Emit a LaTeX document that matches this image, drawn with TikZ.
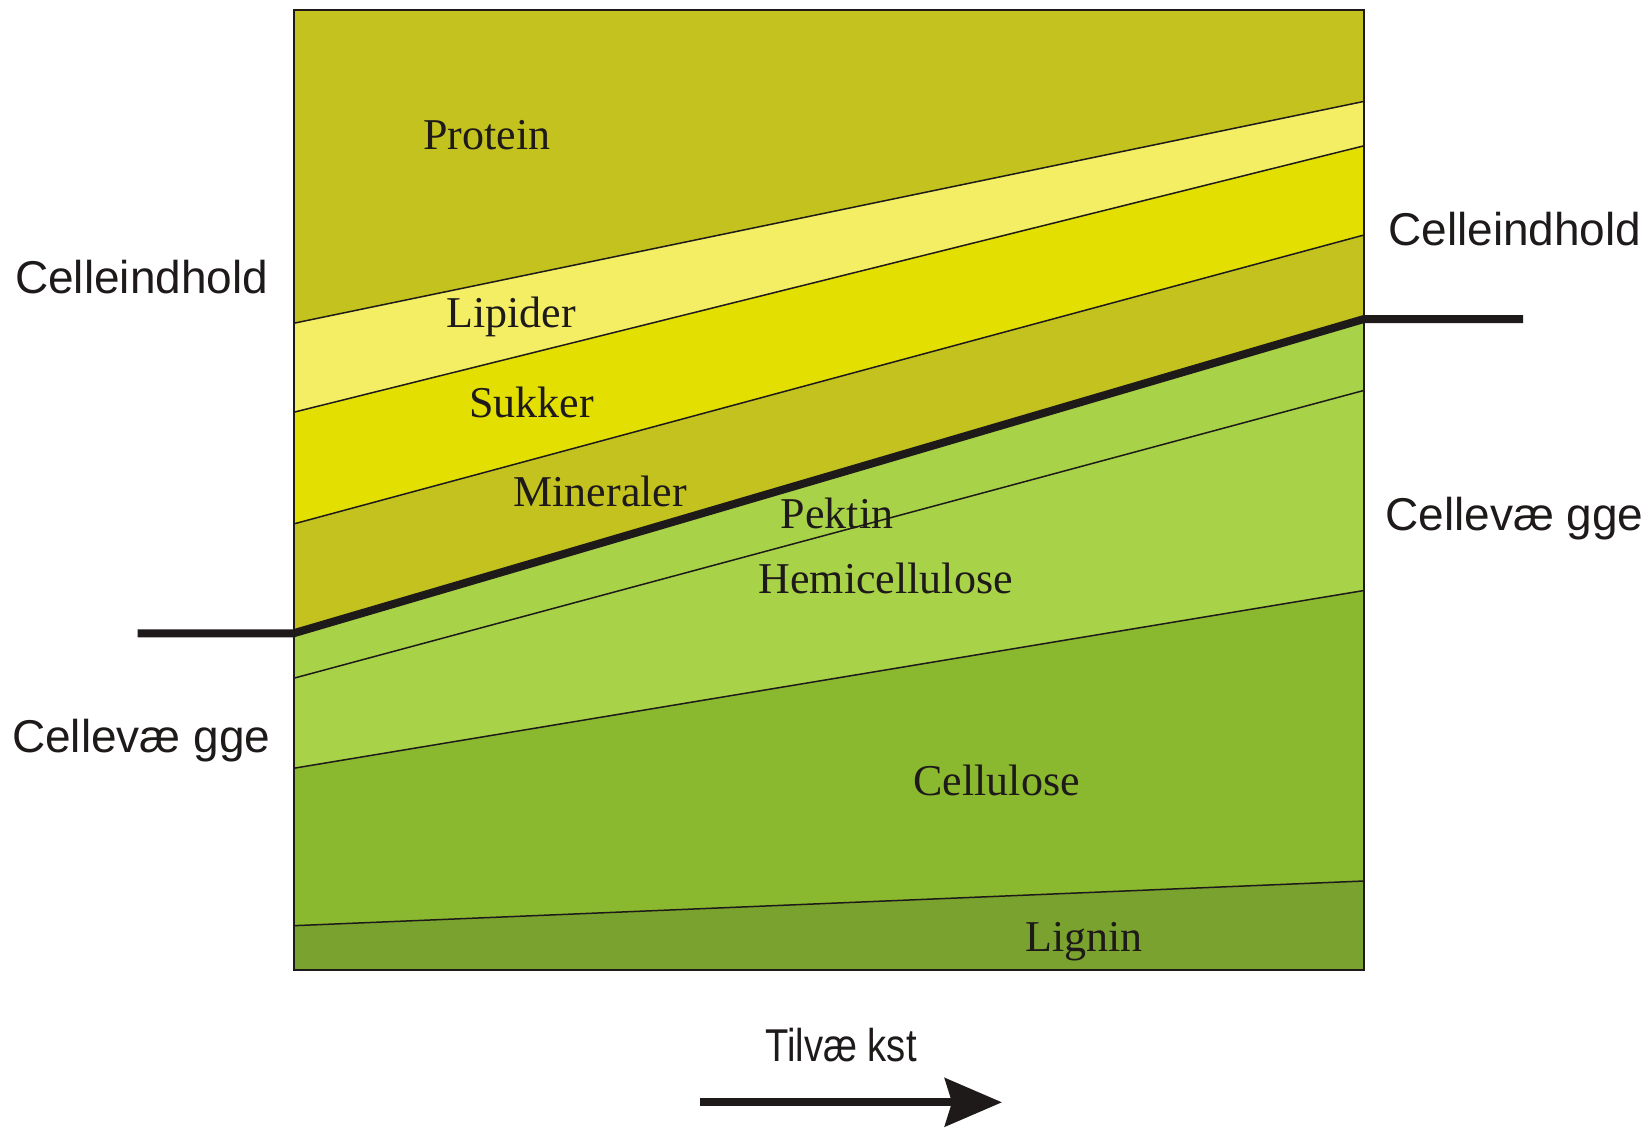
\documentclass[tikz,border=0pt]{standalone}
\usepackage{fontspec}
\setmainfont{Liberation Serif}
\setsansfont{Liberation Sans}
\usetikzlibrary{arrows.meta}
\definecolor{colProt}{RGB}{196,194,30}
\definecolor{colLip}{RGB}{243,238,100}
\definecolor{colSuk}{RGB}{227,223,0}
\definecolor{colMin}{RGB}{196,194,30}
\definecolor{colPek}{RGB}{168,210,72}
\definecolor{colCel}{RGB}{138,185,48}
\definecolor{colLig}{RGB}{122,162,46}
\definecolor{ink}{RGB}{30,26,26}
\tikzset{
  bandline/.style={draw=ink, line width=1.5pt},
  thickline/.style={draw=ink, line width=8pt, line join=miter, line cap=butt},
  inlabel/.style={anchor=base west, inner sep=0pt, text=ink, font=\fontsize{44}{50}\selectfont\rmfamily},
  outlabel/.style={anchor=base west, inner sep=0pt, text=ink, font=\fontsize{46}{52}\selectfont\sffamily},
}
\begin{document}
\begin{tikzpicture}[x=1pt,y=-1pt]
\useasboundingbox (0,0) rectangle (1651,1127);
% boundary coordinates (left x=293.5, right x=1364)
\coordinate (TL) at (293.5,10);   \coordinate (TR) at (1364,10);
\coordinate (a1) at (293.5,323.3); \coordinate (b1) at (1364,101.4);
\coordinate (a2) at (293.5,412.3); \coordinate (b2) at (1364,145.8);
\coordinate (a3) at (293.5,524);   \coordinate (b3) at (1364,235);
\coordinate (a4) at (293.5,633.3); \coordinate (b4) at (1364,319);
\coordinate (a5) at (293.5,678.3); \coordinate (b5) at (1364,390.4);
\coordinate (a6) at (293.5,768.3); \coordinate (b6) at (1364,590.5);
\coordinate (a7) at (293.5,925.7); \coordinate (b7) at (1364,881);
\coordinate (BL) at (293.5,970);   \coordinate (BR) at (1364,970);
% bands
\fill[colProt] (TL) -- (TR) -- (b1) -- (a1) -- cycle;
\fill[colLip]  (a1) -- (b1) -- (b2) -- (a2) -- cycle;
\fill[colSuk]  (a2) -- (b2) -- (b3) -- (a3) -- cycle;
\fill[colMin]  (a3) -- (b3) -- (b4) -- (a4) -- cycle;
\fill[colPek]  (a4) -- (b4) -- (b5) -- (a5) -- cycle;
\fill[colPek]  (a5) -- (b5) -- (b6) -- (a6) -- cycle;
\fill[colCel]  (a6) -- (b6) -- (b7) -- (a7) -- cycle;
\fill[colLig]  (a7) -- (b7) -- (BR) -- (BL) -- cycle;
% boundary lines
\draw[bandline] (a1) -- (b1);
\draw[bandline] (a2) -- (b2);
\draw[bandline] (a3) -- (b3);
\draw[bandline] (a5) -- (b5);
\draw[bandline] (a6) -- (b6);
\draw[bandline] (a7) -- (b7);
\draw[draw=ink, line width=2pt] (TL) rectangle (BR);
% thick divider
\coordinate (tlL) at (137.7,633.3);
\coordinate (tlR) at (1523,319);
\draw[thickline] (tlL) -- (a4) -- (b4) -- (tlR);
% labels inside
\node[inlabel] (protein) at (423,149) {Protein};
\node[inlabel] (lipider) at (446,327.7) {Lipider};
\node[inlabel] (sukker) at (469.3,417.3) {Sukker};
\node[inlabel] (mineraler) at (513.3,506) {Mineraler};
\node[inlabel] (pektin) at (780.7,528.3) {Pektin};
\node[inlabel] (hemi) at (758.3,593.3) {Hemicellulose};
\node[inlabel] (cellulose) at (913.3,795) {Cellulose};
\node[inlabel] (lignin) at (1025,951.7) {Lignin};
% labels outside
\node[outlabel] (ciL) at (15,293.3) {Celleindhold};
\node[outlabel] (cvL) at (12,752.7) {Cellevæ gge};
\node[outlabel] (ciR) at (1388,245) {Celleindhold};
\node[outlabel] (cvR) at (1385,530) {Cellevæ gge};
\node[outlabel, anchor=base, xscale=0.83] (tilv) at (841,1061) {Tilvæ kst};
% arrow
\coordinate (arrS) at (700,1102.3);
\coordinate (arrE) at (1002,1102.3);
\draw[draw=ink, line width=8pt, -{Stealth[length=57pt,width=48pt,inset=7pt,fill=ink]}] (arrS) -- (arrE);
\end{tikzpicture}
\end{document}
